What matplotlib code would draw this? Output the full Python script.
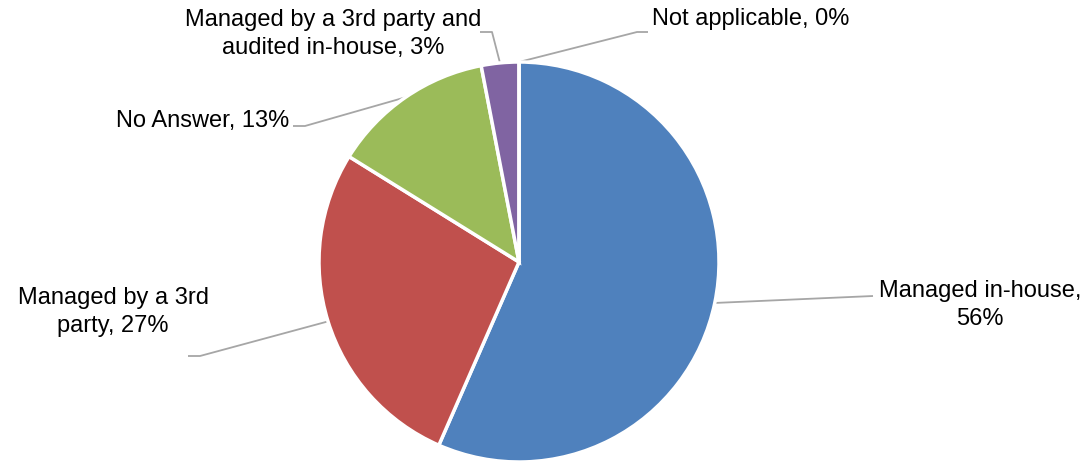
import numpy as np
import matplotlib.pyplot as plt

plt.rcParams['font.family'] = ['Liberation Sans', 'DejaVu Sans']

labels = ["Managed in-house", "Managed by a 3rd party", "No Answer",
          "Managed by a 3rd party and audited in-house", "Not applicable"]
values = [56, 27, 13, 3, 0]
colors = ['#4F81BD', '#C0504D', '#9BBB59', '#8064A2', '#4BACC6']

# label text as printed, elbow point of leader, line end, text anchor (data units, r=1)
label_text = ["Managed in-house,\n56%", "Managed by a 3rd\nparty, 27%", "No Answer, 13%",
              "Managed by a 3rd party and\naudited in-house, 3%", "Not applicable, 0%"]
elbow = [(1.77, -0.17), (-1.595, -0.47), (-1.07, 0.68), (-0.135, 1.15), (0.59, 1.15)]
line_end = [(1.77, -0.17), (-1.655, -0.47), (-1.13, 0.68), (-0.195, 1.15), (0.645, 1.15)]
text_pos = [(2.305, -0.215), (-2.03, -0.25), (-1.15, 0.705), (-0.93, 1.14), (0.665, 1.215)]
text_ha = ['center', 'center', 'right', 'center', 'left']

fig = plt.figure(figsize=(10.91, 4.63), dpi=100)
ax = fig.add_axes([0, 0, 1, 1])

wedges, _ = ax.pie(values, colors=colors, startangle=90, counterclock=False, radius=1,
                   wedgeprops=dict(edgecolor='white', linewidth=2.5))

total = float(sum(values))
start = 90.0
for i, v in enumerate(values):
    ang = np.deg2rad(start - 0.5 * v / total * 360)
    start -= v / total * 360
    x0, y0 = np.cos(ang), np.sin(ang)
    ex, ey = elbow[i]
    lx, ly = line_end[i]
    ax.plot([x0, ex, lx], [y0, ey, ly], color='#a6a6a6', lw=1.3, solid_capstyle='butt', zorder=0)
    ax.text(text_pos[i][0], text_pos[i][1], label_text[i], ha=text_ha[i], va='center',
            fontsize=17, color='black', linespacing=1.3)

ax.set_xlim(-519 / 200, (1091 - 519) / 200)
ax.set_ylim(-201 / 200, 262 / 200)
ax.set_aspect('equal')
ax.axis('off')

fig.savefig('out.png', dpi=100)
